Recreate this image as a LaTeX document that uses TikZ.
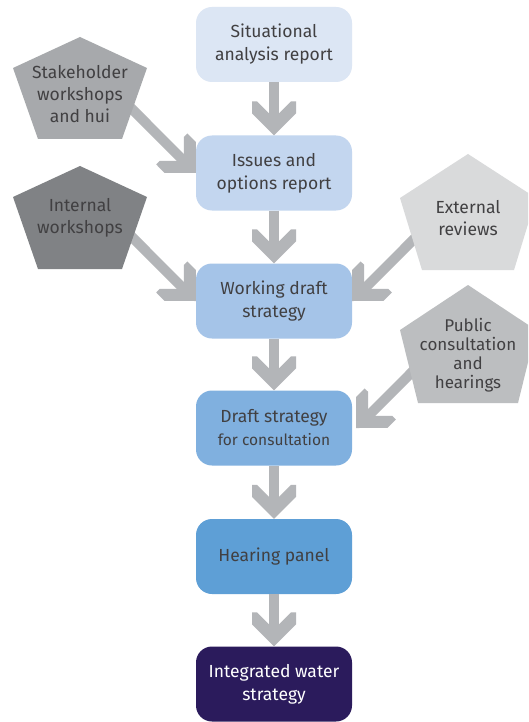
\documentclass[tikz,border=0pt]{standalone}
\usepackage{fontspec}
\setmainfont{Fira Sans}
\usetikzlibrary{arrows.meta}
\definecolor{txtgray}{HTML}{414042}
\definecolor{arrowgray}{HTML}{B3B5B8}
\definecolor{bA}{HTML}{DCE6F4}
\definecolor{bB}{HTML}{C3D6EF}
\definecolor{bC}{HTML}{A5C4E8}
\definecolor{bD}{HTML}{80B0DF}
\definecolor{bE}{HTML}{5E9FD6}
\definecolor{bF}{HTML}{2B1B5C}
\definecolor{pA}{HTML}{A7A9AC}
\definecolor{pB}{HTML}{808285}
\definecolor{pC}{HTML}{D9DADB}
\definecolor{pD}{HTML}{BCBEC0}
\pgfdeclarearrow{
  name = Chev,
  setup code = {
    \pgfarrowssettipend{0pt}
    \pgfarrowssetlineend{-20pt}
    \pgfarrowssetbackend{-34pt}
  },
  drawing code = {
    \pgfpathmoveto{\pgfqpoint{0pt}{0pt}}
    \pgfpathlineto{\pgfqpoint{-22pt}{22pt}}
    \pgfpathlineto{\pgfqpoint{-34pt}{22pt}}
    \pgfpathlineto{\pgfqpoint{-34pt}{17pt}}
    \pgfpathlineto{\pgfqpoint{-22pt}{5pt}}
    \pgfpathlineto{\pgfqpoint{-22pt}{-5pt}}
    \pgfpathlineto{\pgfqpoint{-34pt}{-17pt}}
    \pgfpathlineto{\pgfqpoint{-34pt}{-22pt}}
    \pgfpathlineto{\pgfqpoint{-22pt}{-22pt}}
    \pgfpathclose
    \pgfusepathqfill
  }
}
\begin{document}
\begin{tikzpicture}[x=1pt,y=-1pt,
  box/.style={rectangle, rounded corners=16pt, minimum width=156pt, minimum height=75pt,
    text=txtgray, align=center, font=\fontsize{17.5}{23}\selectfont, inner sep=0pt},
  pent/.style={align=center, text=txtgray, font=\fontsize{17.5}{22}\selectfont, inner sep=0pt},
  conn/.style={line width=10pt, color=arrowgray, -{Chev}}]
\clip (0,0) rectangle (528,722);
\fill[white] (0,0) rectangle (528,722);
% main boxes
\node[box, fill=bA] (d1) at (274,44.5) {Situational\\analysis report};
\node[box, fill=bB] (d2) at (274,173) {Issues and\\options report};
\node[box, fill=bC] (d3) at (274,301) {Working draft\\strategy};
\node[box, fill=bD] (d4) at (274,428) {Draft strategy\\{\fontsize{15.5}{19}\selectfont for consultation}};
\node[box, fill=bE] (d5) at (274,556.5) {Hearing panel};
\node[box, fill=bF, text=white] (d6) at (274,684) {Integrated water\\strategy};
% vertical connectors
\draw[conn] (d1.south) -- (d2.north);
\draw[conn] (d2.south) -- (d3.north);
\draw[conn] (d3.south) -- (d4.north);
\draw[conn] (d4.south) -- (d5.north);
\draw[conn] (d5.south) -- (d6.north);
% diagonal connectors from pentagons
\coordinate (c1) at (118,95);
\coordinate (c2) at (118,223);
\coordinate (c3) at (428,225);
\coordinate (c4) at (432,352);
\draw[conn] (c1) -- (d2.west);
\draw[conn] (c2) -- (d3.west);
\draw[conn] (c3) -- (d3.east);
\draw[conn] (c4) -- ([xshift=4pt]d4.east);
% pentagons
\fill[pA] (80,37) -- (147,68) -- (122,139) -- (38,139) -- (13,68) -- cycle;
\fill[pB] (80,166) -- (147,197) -- (122,269) -- (38,269) -- (13,197) -- cycle;
\fill[pC] (468,154) -- (536,198) -- (514,270) -- (422,270) -- (400,198) -- cycle;
\fill[pD] (468,285) -- (536,330) -- (518,403) -- (418,403) -- (400,330) -- cycle;
\node[pent] (s1) at (80,94) {Stakeholder\\workshops\\and hui};
\node[pent] (s2) at (80,218) {Internal\\workshops};
\node[pent] (s3) at (468,218) {External\\reviews};
\node[pent, font=\fontsize{17}{19}\selectfont] (s4) at (468,355) {Public\\consultation\\and\\hearings};
\end{tikzpicture}
\end{document}
